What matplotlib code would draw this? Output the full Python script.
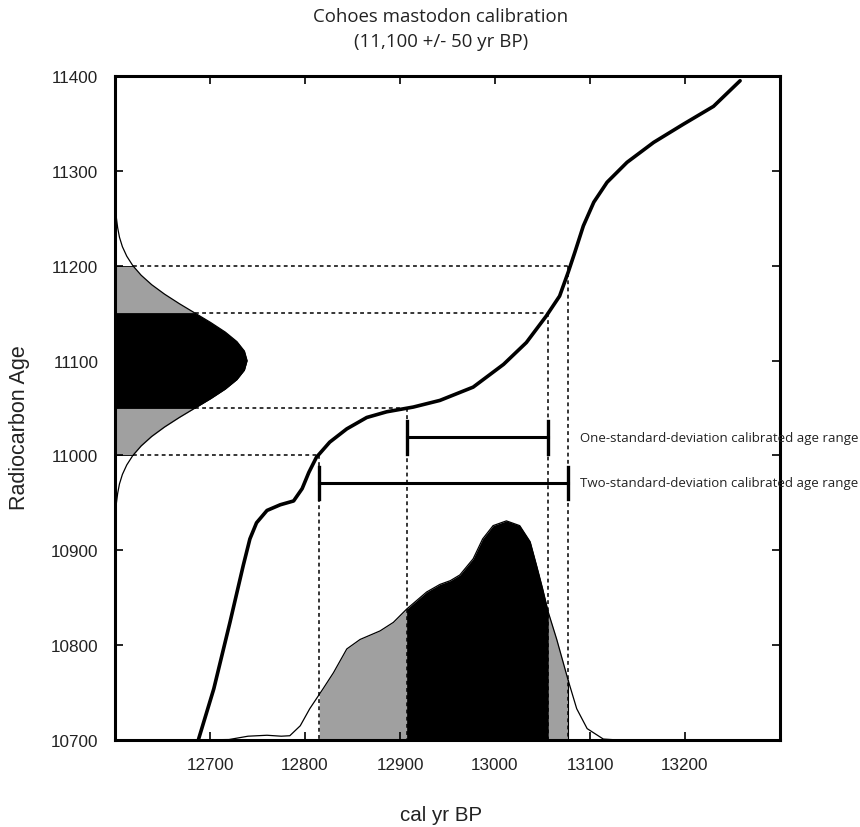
import numpy as np
import matplotlib
matplotlib.use("Agg")
import matplotlib.pyplot as plt

# ------------------ DATA ------------------
# calibration curve (cal yr BP -> radiocarbon age)
curve_cal = [12688, 12704, 12721, 12735, 12742, 12749, 12760, 12774, 12788, 12797,
             12804, 12812, 12826, 12844, 12865, 12886, 12914, 12942, 12977, 13009,
             13033, 13054, 13068, 13077, 13084, 13093, 13104, 13118, 13139, 13167,
             13198, 13230, 13258]
curve_c14 = [10701, 10754, 10824, 10884, 10912, 10929, 10942, 10948, 10952, 10965,
             10982, 10998, 11014, 11028, 11040, 11046, 11051, 11058, 11072, 11096,
             11119, 11147, 11168, 11193, 11214, 11242, 11267, 11288, 11309, 11330,
             11349, 11368, 11395]

# radiocarbon measurement density (width in cal-yr units from left axis)
c14_age = [10930, 10940, 10950, 10960, 10970, 10980, 10990, 11000, 11010, 11020,
           11030, 11040, 11050, 11060, 11070, 11080, 11090, 11100, 11110, 11120,
           11130, 11140, 11150, 11160, 11170, 11180, 11190, 11200, 11210, 11220,
           11230, 11240, 11250, 11260, 11270]
c14_width = [0.3, 0.8, 1.5, 2.8, 4.7, 7.8, 12.4, 18.8, 27.5, 38.6,
             52.2, 67.7, 84.3, 100.9, 116.1, 128.3, 136.2, 139, 136.2, 128.3,
             116.1, 100.9, 84.3, 67.7, 52.2, 38.6, 27.5, 18.8, 12.4, 7.8,
             4.7, 2.8, 1.5, 0.8, 0.3]

# calibrated age density (height in radiocarbon-yr units above bottom axis)
cal_x = [12686, 12720, 12740, 12760, 12775, 12784, 12795, 12805, 12815, 12819,
         12830, 12844, 12858, 12879, 12893, 12907, 12928, 12942, 12953, 12963,
         12977, 12987, 12998, 13012, 13026, 13037, 13044, 13050, 13056, 13065,
         13077, 13086, 13097, 13114, 13130]
cal_h = [0, 0.5, 4, 5, 4, 4.5, 15, 33, 48, 54,
         71, 96, 106, 115, 124, 138, 156, 164, 168, 174,
         191, 212, 226, 231, 226, 209, 183, 160, 135, 106,
         63, 33, 12, 1, 0]

c14_1s = (11050, 11150)
c14_2s = (11000, 11200)
cal_1s = (12907, 13056)
cal_2s = (12815, 13077)

# ------------------ PLOT ------------------
x0, y0 = 12600, 10700
gray = "#a0a0a0"

fig = plt.figure(figsize=(8.6, 8.28), dpi=100)
ax = fig.add_axes([115/860, 1 - 741/828, 665/860, 664/828])

# left density
age = np.array(c14_age)
w = x0 + np.array(c14_width)
ax.fill_betweenx(age, x0, w, where=(age >= c14_2s[0]) & (age <= c14_2s[1]), color=gray, lw=0)
ax.fill_betweenx(age, x0, w, where=(age >= c14_1s[0]) & (age <= c14_1s[1]), color="black", lw=0)
ax.plot(w, age, color="black", lw=0.9)
for a in [c14_2s[0], c14_1s[0], c14_1s[1], c14_2s[1]]:
    ax.plot([x0, x0 + np.interp(a, age, c14_width)], [a, a], color="black", lw=0.6)

# bottom density
cx = np.array(cal_x)
ch = y0 + np.array(cal_h)
ax.fill_between(cx, y0, ch, where=(cx >= cal_2s[0]) & (cx <= cal_2s[1]), color=gray, lw=0)
ax.fill_between(cx, y0, ch, where=(cx >= cal_1s[0]) & (cx <= cal_1s[1]), color="black", lw=0)
ax.plot(cx, ch, color="black", lw=0.9)
ax.plot([cal_2s[1], cal_2s[1]], [y0, np.interp(cal_2s[1], cx, ch)], color="black", lw=0.8)

# dashed guides
dash = dict(color="black", lw=1.1, ls=(0, (2.5, 2.2)))
for a, c in [(c14_2s[0], cal_2s[0]), (c14_1s[0], cal_1s[0]),
             (c14_1s[1], cal_1s[1]), (c14_2s[1], cal_2s[1])]:
    ax.plot([x0 + np.interp(a, age, c14_width), c], [a, a], **dash)
    ax.plot([c, c], [a, y0], **dash)

# calibration curve
ax.plot(curve_cal, curve_c14, color="black", lw=2.6, solid_capstyle="round",
        solid_joinstyle="round")

# range bars
for (lo, hi), yb, label in [(cal_1s, 11019, "One-standard-deviation calibrated age range"),
                            (cal_2s, 10971, "Two-standard-deviation calibrated age range")]:
    ax.plot([lo, hi], [yb, yb], color="black", lw=2.2)
    ax.plot([lo, lo], [yb - 17, yb + 17], color="black", lw=2.4)
    ax.plot([hi, hi], [yb - 17, yb + 17], color="black", lw=2.4)
    ax.text(13090, yb, label, va="center", ha="left",
            fontsize=9.5, family="Open Sans", color="#222222", clip_on=False)

ax.set_xlim(x0, 13300)
ax.set_ylim(y0, 11400)
ax.set_xticks([12700, 12800, 12900, 13000, 13100, 13200])
ax.set_yticks(np.arange(10700, 11401, 100))
ax.tick_params(direction="in", top=True, right=True, length=6, width=1.2,
               labelsize=12.3, pad=12, labelcolor="#222222")
for lab in ax.get_xticklabels() + ax.get_yticklabels():
    lab.set_family("Liberation Sans")
for s in ax.spines.values():
    s.set_linewidth(2.2)

ax.set_xlabel("cal yr BP", family="Liberation Sans", fontsize=14.8, color="#222222")
ax.xaxis.set_label_coords((441 - 115) / 665, -0.098)
ax.set_ylabel("Radiocarbon Age", family="Liberation Sans", fontsize=15.5, color="#222222")
ax.yaxis.set_label_coords(-0.128, 0.472)

fig.text(441/860, 1 - 17/828, "Cohoes mastodon calibration", ha="center", va="center",
         family="Open Sans", fontsize=13.4, color="#222222")
fig.text(441/860, 1 - 42/828, "(11,100 +/- 50 yr BP)", ha="center", va="center",
         family="Open Sans", fontsize=13.4, color="#222222")

fig.savefig("out.png", dpi=100)
